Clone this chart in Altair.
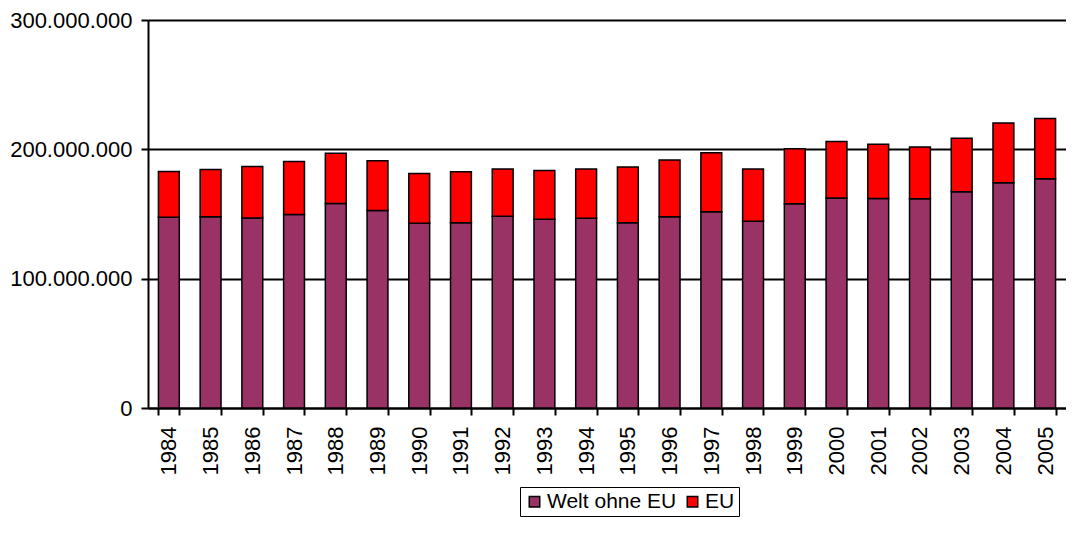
import altair as alt
import pandas as pd

years = [str(y) for y in range(1984, 2006)]
totals = [182.9, 184.5, 186.8, 190.5, 196.9, 191.2, 181.4, 182.7, 184.7, 183.7, 184.7,
          186.3, 191.7, 197.4, 184.7, 200.5, 206.0, 203.9, 201.8, 208.5, 220.4, 223.8]
welt_ohne_eu = [147.5, 147.8, 147.0, 149.6, 158.1, 152.7, 142.9, 143.2, 148.3, 146.0, 146.8,
                143.2, 147.8, 151.7, 144.4, 157.9, 162.3, 162.0, 161.8, 167.2, 174.2, 177.3]
series = ["Welt ohne EU", "EU"]
colors = ["#993366", "#FF0000"]

rows = []
for y, t, w in zip(years, totals, welt_ohne_eu):
    rows.append({"Jahr": y, "Serie": series[0], "Wert": w * 1e6, "ord": 0})
    rows.append({"Jahr": y, "Serie": series[1], "Wert": (t - w) * 1e6, "ord": 1})
df = pd.DataFrame(rows)

FONT = "Liberation Sans"

chart = alt.Chart(df).mark_bar(stroke="black", strokeWidth=1.5).encode(
    x=alt.X("Jahr:N", sort=years, title=None,
            scale=alt.Scale(paddingInner=0.5, paddingOuter=0.25),
            axis=alt.Axis(labelAngle=-90, labelAlign="right", labelBaseline="middle",
                          ticks=True, tickBand="extent", tickSize=7, tickColor="black", tickWidth=2,
                          domainColor="black", domainWidth=2, labelPadding=11,
                          labelFont=FONT, labelFontSize=22, labelColor="black", grid=False)),
    y=alt.Y("Wert:Q", stack="zero", title=None,
            scale=alt.Scale(domain=[0, 3e8], nice=False),
            axis=alt.Axis(values=[0, 1e8, 2e8, 3e8],
                          labelExpr="replace(format(datum.value, ',d'), regexp(',', 'g'), '.')",
                          grid=True, gridColor="black", gridWidth=2, gridOpacity=1,
                          ticks=True, tickSize=7, tickColor="black", tickWidth=2,
                          domainColor="black", domainWidth=2, labelPadding=9,
                          labelFont=FONT, labelFontSize=22, labelColor="black")),
    color=alt.Color("Serie:N", sort=series,
                    scale=alt.Scale(domain=series, range=colors),
                    legend=alt.Legend(title=None, orient="none", direction="horizontal",
                                      legendX=372, legendY=467,
                                      strokeColor="black", padding=4,
                                      symbolType="square", symbolSize=110,
                                      symbolStrokeColor="black", symbolStrokeWidth=1.5,
                                      labelFont=FONT, labelFontSize=21, labelColor="black",
                                      columnPadding=5, labelOffset=2)),
    order=alt.Order("ord:Q"),
).properties(
    width=918, height=388,
    autosize=alt.AutoSizeParams(type="none"),
    padding={"left": 140, "top": 12, "right": 0, "bottom": 125},
).configure_view(stroke=None).configure(background="white")

chart.save("out.html", embed_options={"renderer": "svg", "actions": False})
